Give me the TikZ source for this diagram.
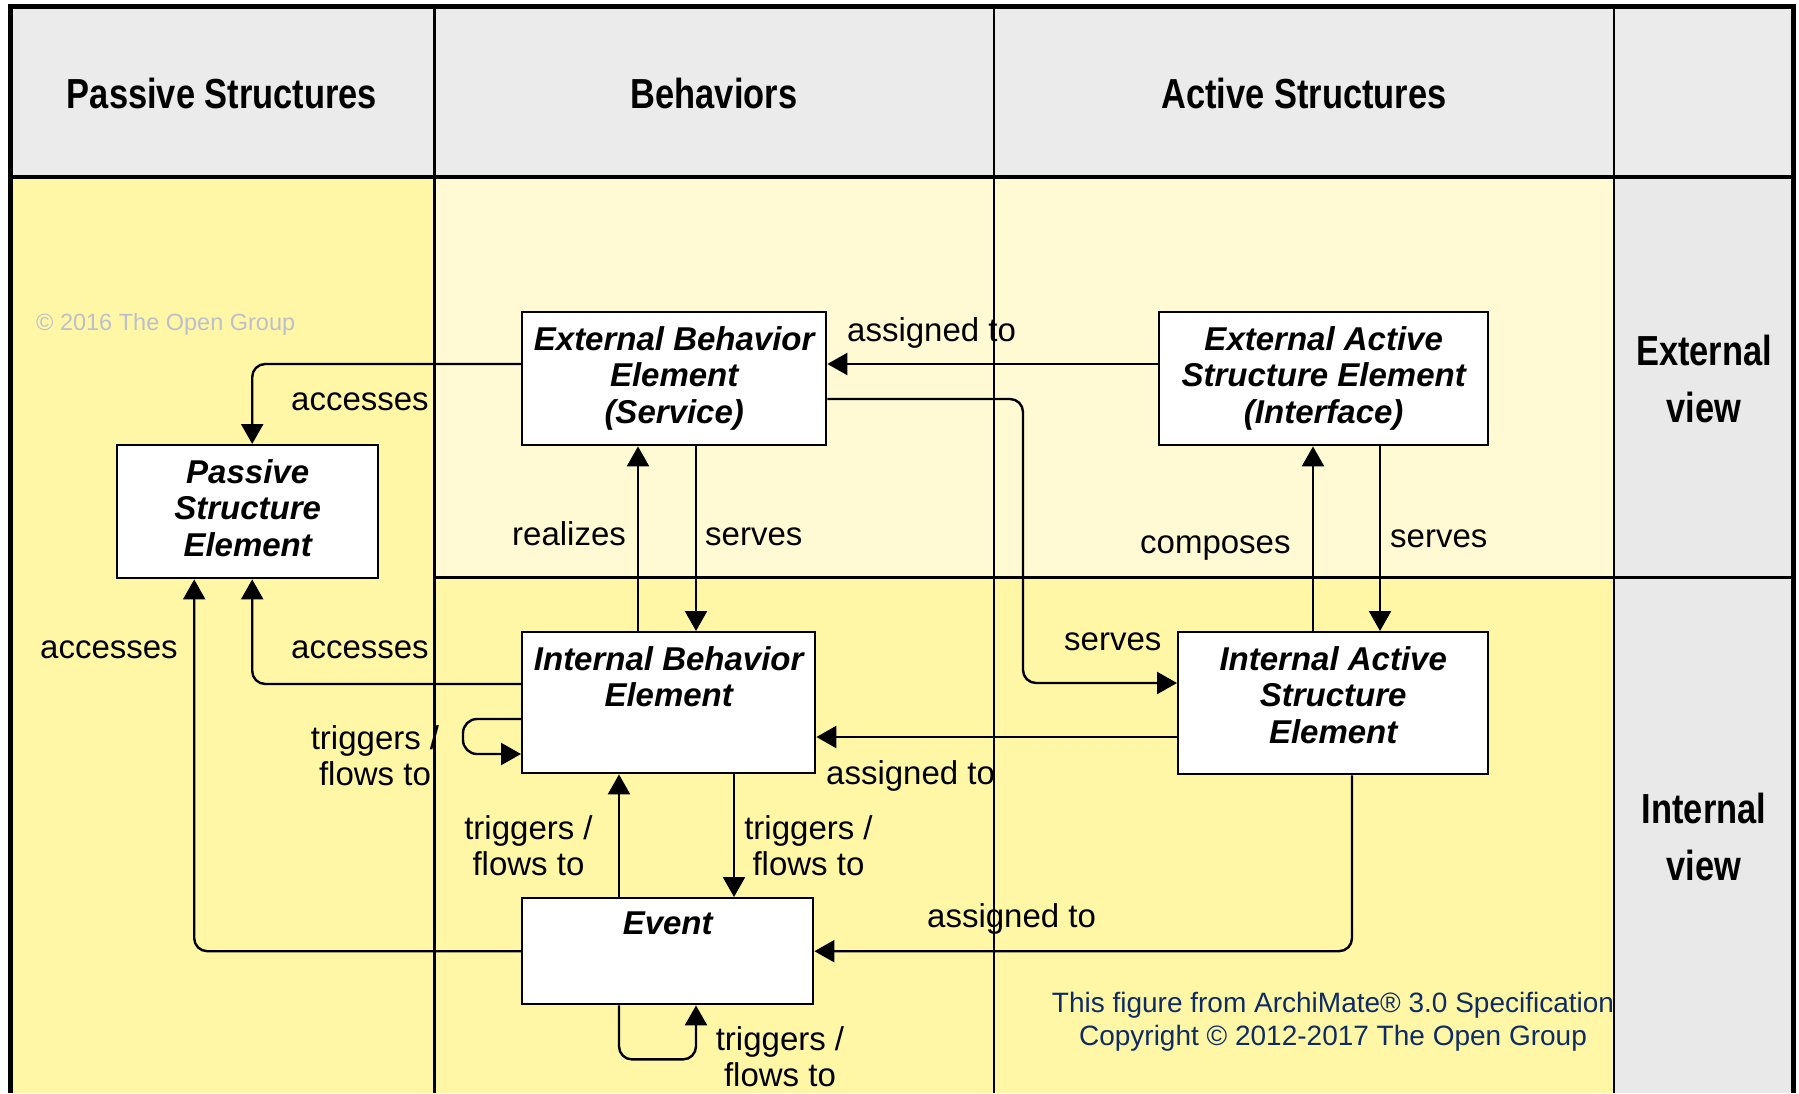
\documentclass[tikz,border=0pt]{standalone}
\usepackage{fontspec}
\setmainfont{Liberation Sans}
\newfontfamily\headfont[FakeStretch=0.82]{Liberation Sans}
\usetikzlibrary{arrows.meta}

\definecolor{hdrgray}{RGB}{235,235,235}
\definecolor{sidegray}{RGB}{233,233,233}
\definecolor{paleyellow}{RGB}{255,250,211}
\definecolor{deepyellow}{RGB}{255,247,166}
\definecolor{navytext}{RGB}{14,44,100}
\definecolor{watermark}{RGB}{188,192,204}

\begin{document}
\begin{tikzpicture}[x=1pt,y=-1pt,
  element/.style={draw=black, line width=2.4pt, fill=white, inner sep=0pt, anchor=north west},
  boxtitle/.style={inner sep=0pt, anchor=north, align=center,
    font=\bfseries\itshape\fontsize{33}{36.7}\selectfont},
  colhead/.style={inner sep=0pt, anchor=base, font=\headfont\bfseries\fontsize{42}{57}\selectfont},
  rowhead/.style={inner sep=0pt, anchor=north, align=center, font=\headfont\bfseries\fontsize{42}{57}\selectfont},
  lbl/.style={inner sep=0pt, anchor=base west, font=\fontsize{33}{36}\selectfont},
  lbltwo/.style={inner sep=0pt, anchor=north, align=center, font=\fontsize{33}{36}\selectfont},
  conn/.style={draw=black, line width=2.4pt, rounded corners=13pt, -{Triangle[length=20pt,width=22pt]}},
  gridline/.style={draw=black, line width=2.5pt},
]
\useasboundingbox (0,0) rectangle (1799,1093);

% --- swimlane backgrounds ---
\fill[hdrgray] (10,6.5) rectangle (1793.5,177);
\fill[deepyellow] (10,177) rectangle (434.5,1093);
\fill[paleyellow] (434.5,177) rectangle (1614,577);
\fill[deepyellow] (434.5,577) rectangle (1614,1093);
\fill[sidegray] (1614,177) rectangle (1793.5,1093);

% --- grid lines ---
\draw[gridline] (434.5,6.5) -- (434.5,1093);
\draw[gridline] (994,6.5) -- (994,1093);
\draw[gridline] (1614,6.5) -- (1614,1093);
\draw[gridline, line width=3.5pt] (10,177) -- (1793.5,177);
\draw[gridline, line width=3pt] (434.5,577) -- (1793.5,577);
\draw[line width=5pt] (10,1093) -- (10,6.5) -- (1793.5,6.5) -- (1793.5,1093);

% --- column and row headings ---
\node[colhead] (hpassive) at (222,108) {Passive Structures};
\node[colhead] (hbehav) at (714,108) {Behaviors};
\node[colhead] (hactive) at (1304,108) {Active Structures};
\node[rowhead] (hext) at (1704,335) {External\\view};
\node[rowhead] (hint) at (1704,793) {Internal\\view};

\node[inner sep=0pt, anchor=base west, text=watermark, font=\fontsize{23.5}{26}\selectfont]
  (wm) at (36,330) {© 2016 The Open Group};

% --- elements ---
\node[element, minimum width=304pt, minimum height=133pt] (ebe) at (521,311) {};
\node[element, minimum width=329pt, minimum height=133pt] (ease) at (1158,311) {};
\node[element, minimum width=261pt, minimum height=133pt] (pse) at (116,444) {};
\node[element, minimum width=293pt, minimum height=141pt] (ibe) at (521,631) {};
\node[element, minimum width=310pt, minimum height=142pt] (iase) at (1177,631) {};
\node[element, minimum width=291pt, minimum height=106pt] (event) at (521,897) {};

% --- anchor points on element sides ---
\coordinate (ebeW) at ([yshift=-53pt]ebe.north west);
\coordinate (ebeE) at ([yshift=-53pt]ebe.north east);
\coordinate (ebeE2) at ([yshift=-88pt]ebe.north east);
\coordinate (easeW) at ([yshift=-53pt]ease.north west);
\coordinate (iaseW) at ([yshift=-52pt]iase.north west);
\coordinate (iaseW2) at ([yshift=-106pt]iase.north west);
\coordinate (iaseS) at ([xshift=175pt]iase.south west);
\coordinate (pseN) at ([xshift=4.5pt]pse.north);
\coordinate (pseS) at ([xshift=4.5pt]pse.south);
\coordinate (pseS2) at ([xshift=-53.5pt]pse.south);
\coordinate (ibeW) at ([yshift=-53pt]ibe.north west);
\coordinate (ibeLoop) at ([yshift=-88pt]ibe.north west);
\coordinate (rz) at ([xshift=117pt]ibe.north west);
\coordinate (sv) at ([xshift=175pt]ebe.south west);
\coordinate (cp) at ([xshift=136pt]iase.north west);
\coordinate (sv2) at ([xshift=222pt]ease.south west);
\coordinate (tr1) at ([xshift=98pt]event.north west);
\coordinate (tr2) at ([xshift=213pt]ibe.south west);
\coordinate (evLoop) at ([xshift=98pt]event.south west);
\coordinate (servesBend) at (1023,500);

% --- relationships ---
\draw[conn] (easeW) -- (ebeE);
\draw[conn] (ebeW) -| (pseN);
\draw[conn] (ebeE2) -| (servesBend |- iaseW) -- (iaseW);
\draw[conn] (rz) -- (rz |- ebe.south);
\draw[conn] (sv) -- (sv |- ibe.north);
\draw[conn] (cp) -- (cp |- ease.south);
\draw[conn] (sv2) -- (sv2 |- iase.north);
\draw[conn] (ibeW) -| (pseS);
\draw[conn] (event.west) -| (pseS2);
\draw[conn, rounded corners=14pt] (ibeLoop) -- ++(-58,0) -- ++(0,35) -- ++(58,0);
\draw[conn] (iaseW2) -- (iaseW2 -| ibe.east);
\draw[conn] (tr1) -- (tr1 |- ibe.south);
\draw[conn] (tr2) -- (tr2 |- event.north);
\draw[conn] (iaseS) |- (event.east);
\draw[conn] (evLoop) -- ++(0,54) -- ++(77,0) -- ++(0,-54);

% --- element titles ---
\node[boxtitle] (ebeT) at ([yshift=-15pt]ebe.north) {External Behavior\\Element\\(Service)};
\node[boxtitle] (easeT) at ([yshift=-15pt]ease.north) {External Active\\Structure Element\\(Interface)};
\node[boxtitle] (pseT) at ([yshift=-15pt]pse.north) {Passive\\Structure\\Element};
\node[boxtitle] (ibeT) at ([yshift=-15pt]ibe.north) {Internal Behavior\\Element};
\node[boxtitle] (iaseT) at ([yshift=-15pt]iase.north) {Internal Active\\Structure\\Element};
\node[boxtitle] (eventT) at ([yshift=-15pt]event.north) {Event};

% --- relationship labels ---
\node[lbl] (l1) at (847,341) {assigned to};
\node[lbl] (l2) at (291,410) {accesses};
\node[lbl] (l3) at (512,545) {realizes};
\node[lbl] (l4) at (705,545) {serves};
\node[lbl] (l5) at (1140,553) {composes};
\node[lbl] (l6) at (1390,547) {serves};
\node[lbl] (l7) at (1064,650) {serves};
\node[lbl] (l8) at (40,658) {accesses};
\node[lbl] (l9) at (291,658) {accesses};
\node[lbl] (l10) at (826,784) {assigned to};
\node[lbl] (l11) at (927,927) {assigned to};
\node[lbltwo] (l12) at (375,725) {triggers /\\flows to};
\node[lbltwo] (l13) at (528.5,815) {triggers /\\flows to};
\node[lbltwo] (l14) at (808.5,815) {triggers /\\flows to};
\node[lbltwo] (l15) at (780,1026) {triggers /\\flows to};

% --- source note ---
\node[inner sep=0pt, anchor=north, align=center, text=navytext, font=\fontsize{28}{33}\selectfont]
  (note) at (1333,992) {This figure from ArchiMate® 3.0 Specification\\Copyright © 2012-2017 The Open Group};
\end{tikzpicture}
\end{document}
